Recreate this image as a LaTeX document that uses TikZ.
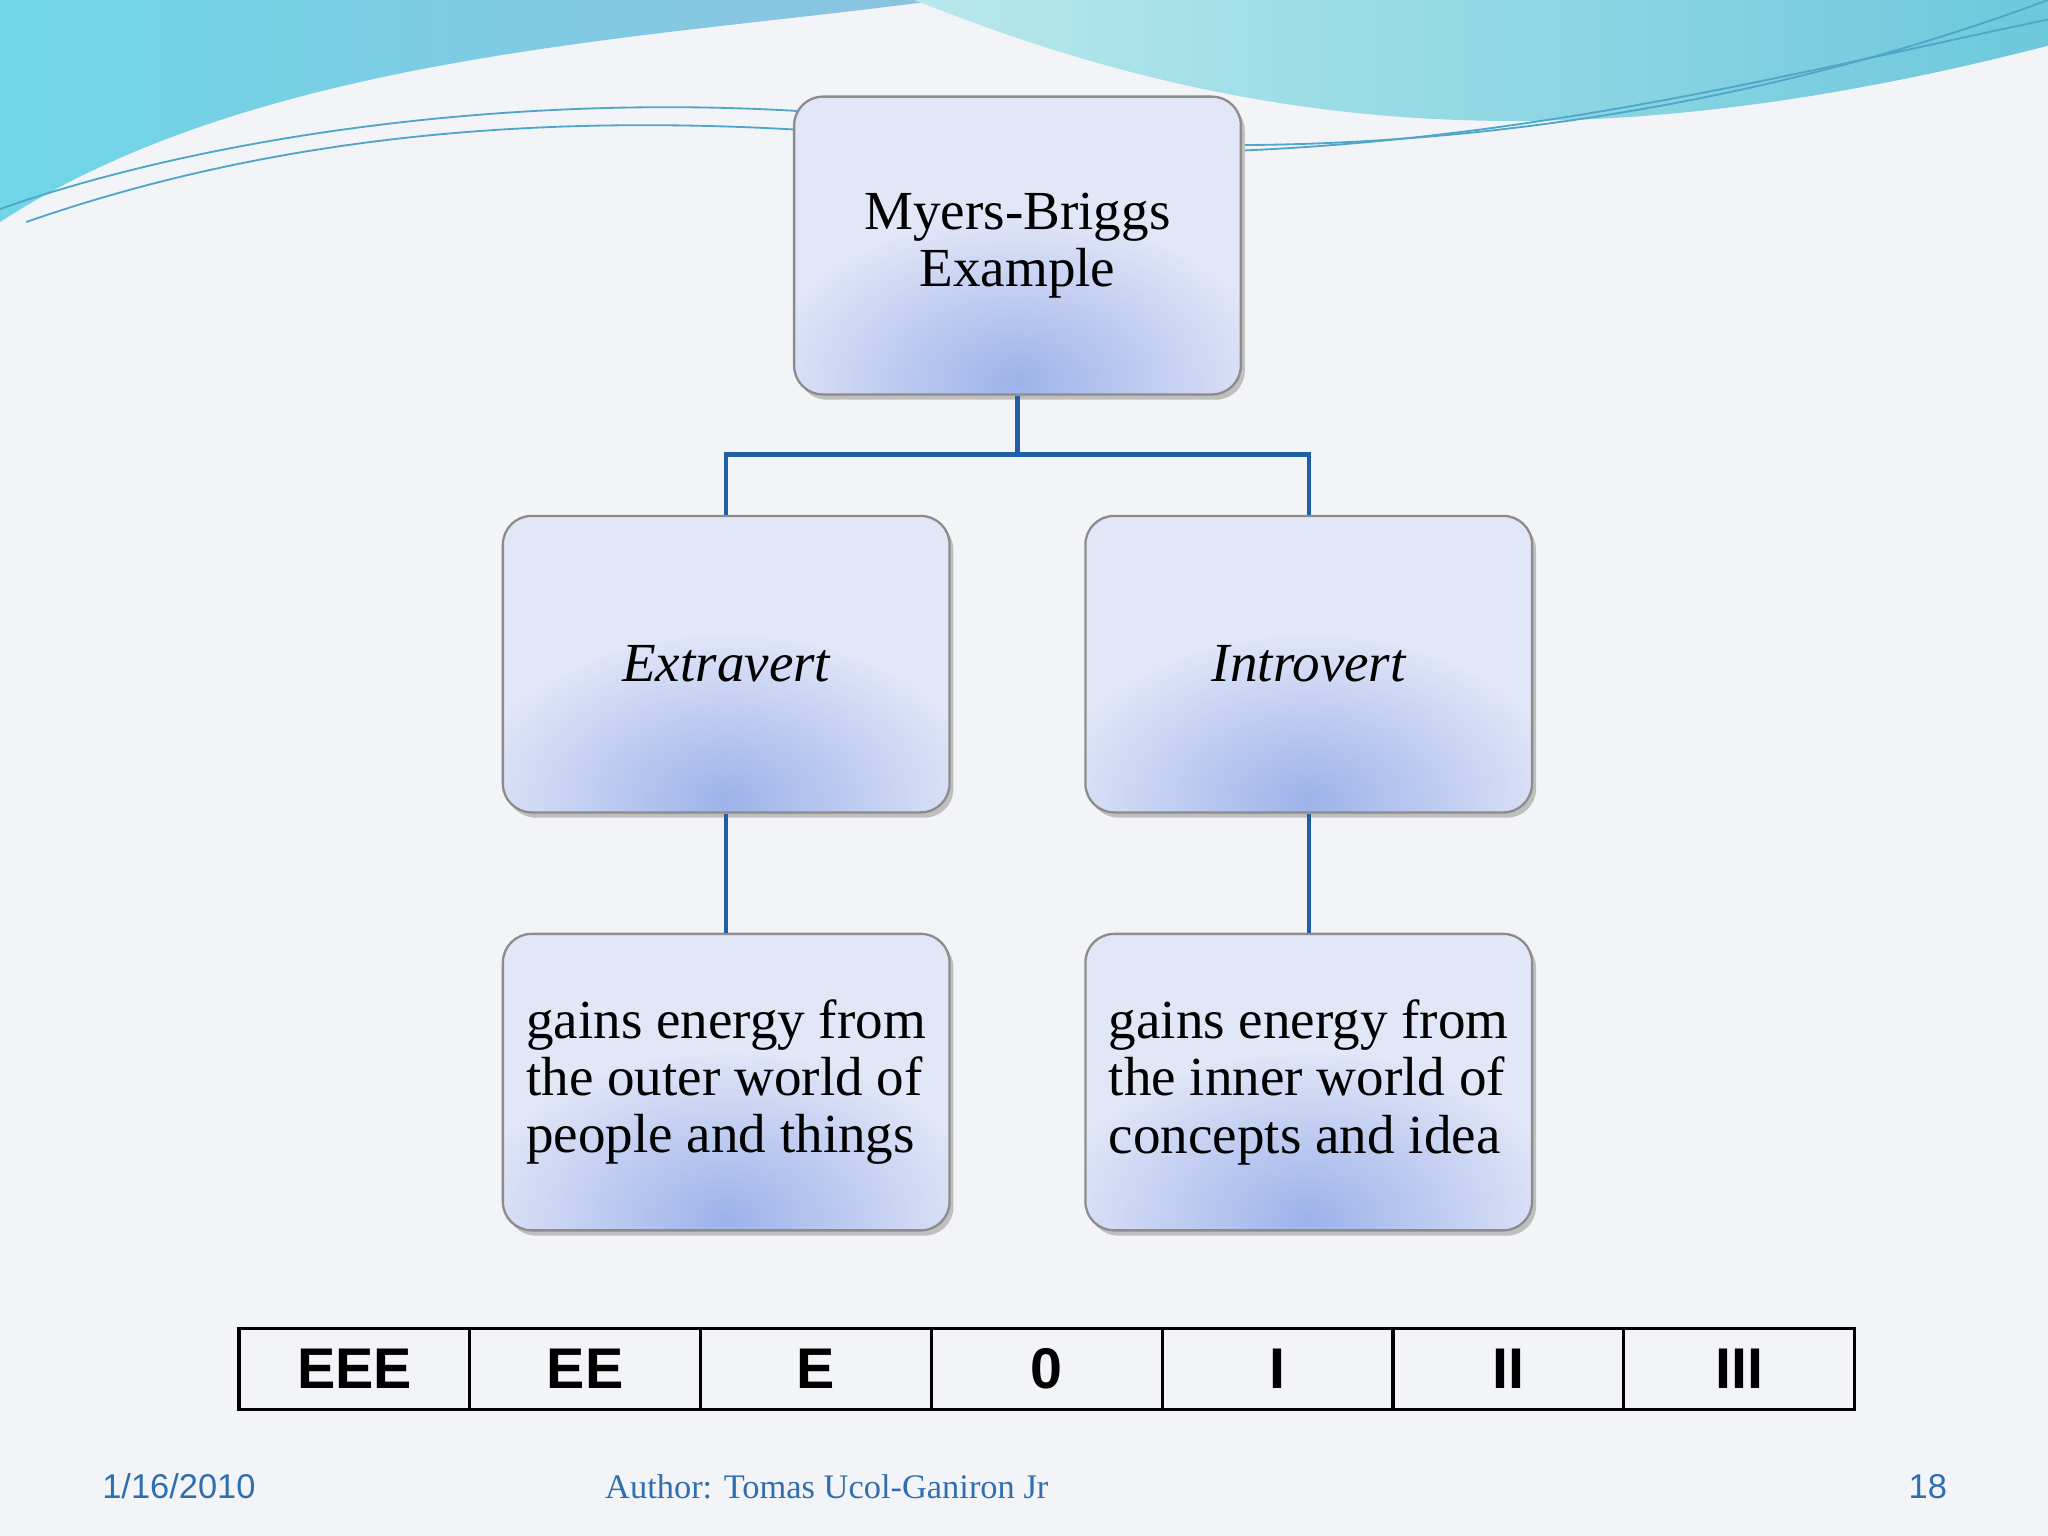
\documentclass[tikz,border=0pt]{standalone}
\usepackage{fontspec}
\setmainfont{Liberation Serif}
\newfontfamily\sansf{Liberation Sans}
\definecolor{lineblue}{HTML}{1F5FA8}
\definecolor{boxfill}{HTML}{E2E7F8}
\definecolor{boxin}{HTML}{9DB2EA}
\definecolor{foot}{HTML}{2F6FB0}
\definecolor{bg}{HTML}{F3F4F7}
\definecolor{wa}{HTML}{6FD6E8}
\definecolor{wb}{HTML}{8CC2DF}
\definecolor{wc}{HTML}{B8E8EC}
\definecolor{wd}{HTML}{6CC8DC}
\definecolor{wl}{HTML}{4FA6C8}
\tikzset{
  conn/.style={draw=lineblue,line width=0.9pt},
  cell/.style={draw=black,line width=0.7pt,minimum width=1.767cm,minimum height=0.62cm,inner sep=0pt,font=\sansf\bfseries\fontsize{12.5}{13}\selectfont},
}
\newcommand{\mybox}[5]{%
  \fill[black!25,rounded corners=0.22cm] (#1+0.03,-#4-0.04) rectangle (#3+0.03,-#2-0.04);
  \begin{scope}
    \clip[rounded corners=0.22cm] (#1,-#4) rectangle (#3,-#2);
    \fill[boxfill] (#1,-#4) rectangle (#3,-#2);
    \shade[inner color=boxin,outer color=boxfill] ({(#1+#3)/2},-#4+0.1) ellipse (2.0cm and 1.3cm);
  \end{scope}
  \node[draw=black!45,line width=0.5pt,rounded corners=0.22cm,minimum width={(#3-#1)*1cm},minimum height={(#4-#2)*1cm},inner sep=0pt] (#5) at ({(#1+#3)/2},{-(#2+#4)/2}) {};
}
\begin{document}
\begin{tikzpicture}
\useasboundingbox (0,0) rectangle (15.68,-11.76);
\fill[bg] (0,0) rectangle (15.68,-11.76);
% top waves
\shade[left color=wa,right color=wb] (0,0) -- (7.2,0) .. controls (5,-0.3) and (2,-0.4) .. (0,-1.7) -- cycle;
\shade[left color=wc,right color=wd] (7.0,0) .. controls (9.5,-1.0) and (12,-1.3) .. (15.68,-0.35) -- (15.68,0) -- cycle;
\draw[wl,line width=0.4pt] (0,-1.6) .. controls (2,-0.9) and (5,-0.6) .. (7.5,-1.0) .. controls (10,-1.3) and (13,-1.0) .. (15.68,0.0);
\draw[wl,line width=0.4pt] (0.2,-1.7) .. controls (2.5,-0.9) and (5,-0.8) .. (7.8,-1.15) .. controls (11,-1.3) and (13.5,-0.6) .. (15.68,-0.15);
% boxes
\mybox{6.08}{0.74}{9.50}{3.02}{top}
\mybox{3.85}{3.95}{7.27}{6.22}{ext}
\mybox{8.31}{3.95}{11.73}{6.22}{int}
\mybox{3.85}{7.15}{7.27}{9.42}{extd}
\mybox{8.31}{7.15}{11.73}{9.42}{intd}
\node[font=\fontsize{12}{12.5}\selectfont,align=center] at (top) {Myers-Briggs\\Example};
\node[font=\itshape\fontsize{12}{13}\selectfont] at (ext) {Extravert};
\node[font=\itshape\fontsize{12}{13}\selectfont] at (int) {Introvert};
\node[font=\fontsize{12}{12.5}\selectfont,align=left] at (extd) {gains energy from\\the outer world of\\people and things};
\node[font=\fontsize{12}{12.5}\selectfont,align=left] at (intd) {gains energy from\\the inner world of\\concepts and idea};
% connectors
\coordinate (mid) at (7.79,-3.48);
\draw[conn] (top.south) -- (mid);
\draw[conn] (ext.north) |- (mid) -| (int.north);
\draw[conn] (ext.south) -- (extd.north);
\draw[conn] (int.south) -- (intd.north);
% scale table
\foreach \t [count=\i] in {EEE,EE,E,0,I,II,III}{
  \node[cell] (c\i) at ({1.83+0.8835+(\i-1)*1.767},-10.48) {\t};
}
% footer
\node[font=\sansf\fontsize{7.5}{8}\selectfont,text=foot] (d) at (1.37,-11.38) {1/16/2010};
\node[font=\fontsize{7.5}{8}\selectfont,text=foot] (a) at (6.33,-11.38) {Author: Tomas Ucol-Ganiron Jr};
\node[font=\sansf\fontsize{7.5}{8}\selectfont,text=foot] (p) at (14.76,-11.38) {18};
\end{tikzpicture}
\end{document}
